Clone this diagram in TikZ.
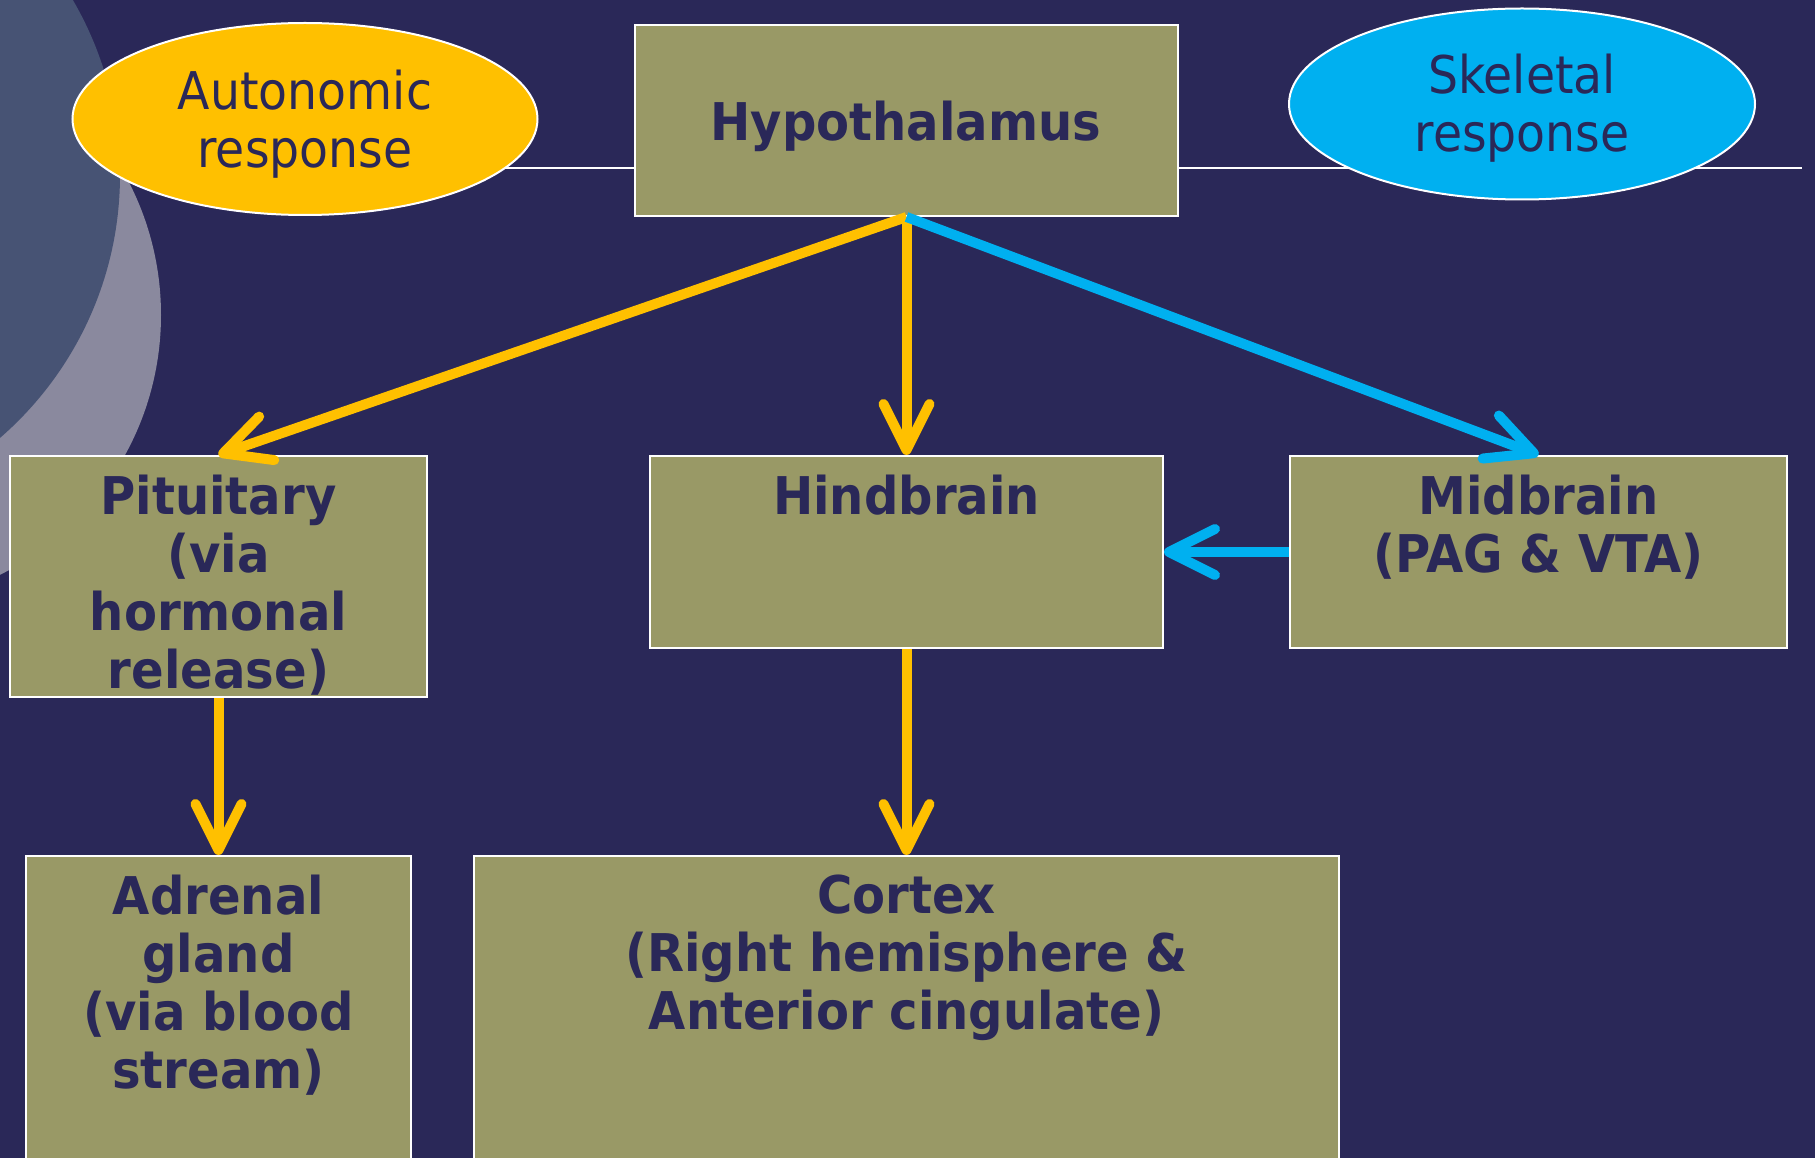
\documentclass[tikz,border=0pt]{standalone}
\usepackage{fontspec}
\setmainfont{DejaVu Sans}[FakeStretch=0.91,BoldFeatures={FakeStretch=0.925}]
\usetikzlibrary{arrows.meta,shapes.geometric,calc}
\definecolor{bgnavy}{HTML}{2A2858}
\definecolor{inknavy}{HTML}{2A2858}
\definecolor{olive}{HTML}{999966}
\definecolor{amber}{HTML}{FFC000}
\definecolor{sky}{HTML}{00B0F0}
\definecolor{slateA}{HTML}{475374}
\definecolor{slateB}{HTML}{8A899E}
\begin{document}
\begin{tikzpicture}[x=1pt,y=-1pt,
  boxnode/.style={draw=white, line width=2pt, fill=olive, inner sep=0pt, anchor=north west},
  ovalnode/.style={ellipse, draw=white, line width=2pt, inner sep=0pt},
  txt/.style={text=inknavy, font=\fontsize{52pt}{58pt}\selectfont, align=center, inner sep=0pt},
  btxt/.style={txt, font=\fontsize{52pt}{58pt}\selectfont\bfseries},
  flow/.style={line width=10pt, -{Straight Barb[length=46pt,width=46pt,round]}},
]
% canvas and background
\clip (0,0) rectangle (1815,1158);
\fill[bgnavy] (0,0) rectangle (1815,1158);
\fill[slateB] (-129,315) circle (290pt);
\fill[slateA] (-228,175) circle (348pt);

% rule behind the top row
\draw[white, line width=2pt] (400,168) -- (1802,168);

% response ovals
\node[ovalnode, fill=amber, minimum width=465pt, minimum height=192pt] (auto) at (305,119) {};
\node[txt, anchor=north] (autoT) at (305,70) {Autonomic\\response};
\node[ovalnode, fill=sky, minimum width=466pt, minimum height=191pt] (skel) at (1522,104) {};
\node[txt, anchor=north] (skelT) at (1522,54) {Skeletal\\response};

% boxes
\node[boxnode, minimum width=543pt, minimum height=191pt] (hypo) at (634,24) {};
\node[btxt, anchor=base] (hypoT) at (906,141) {Hypothalamus};

\node[boxnode, minimum width=417pt, minimum height=241pt] (pit) at (9,455) {};
\node[btxt, anchor=north] (pitT) at ($(pit.north)+(0,20)$) {Pituitary\\(via\\hormonal\\release)};

\node[boxnode, minimum width=513pt, minimum height=192pt] (hind) at (649,455) {};
\node[btxt, anchor=north] (hindT) at ($(hind.north)+(0,20)$) {Hindbrain};

\node[boxnode, minimum width=497pt, minimum height=192pt] (mid) at (1289,455) {};
\node[btxt, anchor=north] (midT) at ($(mid.north)+(0,20)$) {Midbrain\\(PAG \& VTA)};

\node[boxnode, minimum width=385pt, minimum height=400pt] (adr) at (25,855) {};
\node[btxt, anchor=north] (adrT) at ($(adr.north)+(0,20)$) {Adrenal\\gland\\(via blood\\stream)};

\node[boxnode, minimum width=865pt, minimum height=400pt] (cortex) at (473,855) {};
\node[btxt, anchor=north] (cortexT) at ($(cortex.north)+(0,20)$) {Cortex\\(Right hemisphere \&\\Anterior cingulate)};

% autonomic pathway
\draw[flow, amber] (hypo.south) -- (pit.north);
\draw[flow, amber] (hypo.south) -- (hind.north);
\draw[flow, amber] (pit.south) -- (adr.north);
\draw[flow, amber] (hind.south) -- (cortex.north);

% skeletal pathway
\draw[flow, sky] (hypo.south) -- (mid.north);
\draw[flow, sky] (mid.west) -- (hind.east);
\end{tikzpicture}
\end{document}
